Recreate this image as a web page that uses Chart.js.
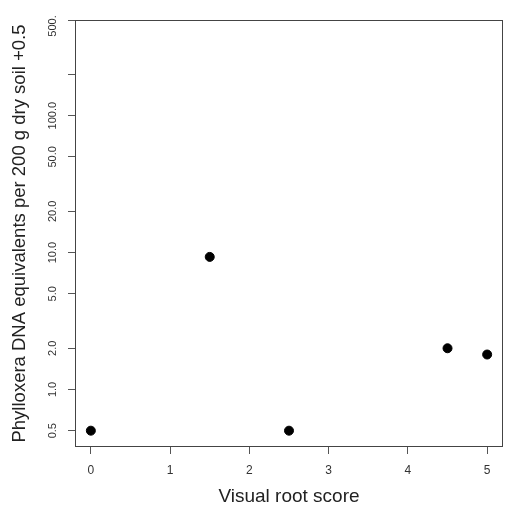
<!DOCTYPE html>
<html>
<head>
<meta charset="utf-8">
<script src="https://cdn.jsdelivr.net/npm/chart.js@4"></script>
<style>
  body { margin: 0; background: #fff; }
  #wrap { width: 509px; height: 506px; }
</style>
</head>
<body>
<div id="wrap"><canvas id="rootChart" width="509" height="506"></canvas></div>
<script>
// values
const rootScores = [0, 1.5, 2.5, 4.5, 5];
const dnaEquiv = [0.5, 9.3, 0.5, 2.0, 1.8];

const xTickValues = [0, 1, 2, 3, 4, 5];
const yTickValues = [0.5, 1, 2, 5, 10, 20, 50, 100, 200, 500];
const yTickLabels = ["0.5", "1.0", "2.0", "5.0", "10.0", "20.0", "50.0", "100.0", "", "500."];

const points = rootScores.map((x, i) => ({ x: x, y: dnaEquiv[i] }));

// box round the plot region + rotated y tick labels (R style)
const frameAndLabels = {
  id: "frameAndLabels",
  afterDraw(chart) {
    const { ctx, chartArea: a } = chart;
    const yScale = chart.scales.y;
    ctx.save();
    ctx.strokeStyle = "#444";
    ctx.lineWidth = 1;
    ctx.strokeRect(a.left + 0.5, a.top + 0.5, a.right - a.left - 1, a.bottom - a.top - 1);

    ctx.fillStyle = "#333";
    ctx.font = "11px 'Liberation Sans', Arial, sans-serif";
    ctx.textAlign = "center";
    ctx.textBaseline = "middle";
    yTickValues.forEach((v, i) => {
      let py = yScale.getPixelForValue(v);
      if (i === yTickValues.length - 1) py += 6; // top label sits a bit low in the original
      ctx.save();
      ctx.translate(53, py);
      ctx.rotate(-Math.PI / 2);
      ctx.fillText(yTickLabels[i], 0, 0);
      ctx.restore();
    });
    ctx.restore();
  }
};

const ctx = document.querySelector("#rootChart").getContext("2d");

new Chart(ctx, {
  type: "scatter",
  data: {
    datasets: [
      {
        data: points,
        backgroundColor: "#000",
        borderColor: "#000",
        pointRadius: 4.5,
        pointHoverRadius: 4.5
      }
    ]
  },
  options: {
    responsive: false,
    animation: false,
    layout: { padding: { left: 0, top: 20, right: 6, bottom: 0 } },
    plugins: { legend: { display: false }, tooltip: { enabled: false } },
    scales: {
      x: {
        type: "linear",
        min: -0.2,
        max: 5.2,
        afterBuildTicks: (s) => { s.ticks = xTickValues.map(v => ({ value: v })); },
        afterFit: (s) => { s.height = 59; },
        grid: { drawOnChartArea: false, drawTicks: true, tickLength: 7, color: "#555" },
        border: { display: false },
        ticks: {
          color: "#333",
          padding: 9,
          font: { family: "'Liberation Sans', Arial, sans-serif", size: 12 },
          callback: (v) => String(v)
        },
        title: {
          display: true,
          text: "Visual root score",
          color: "#222",
          padding: { top: 0, bottom: 0 },
          font: { family: "'Liberation Sans', Arial, sans-serif", size: 19, lineHeight: 1 }
        }
      },
      y: {
        type: "logarithmic",
        min: 0.38,
        max: 500,
        afterBuildTicks: (s) => { s.ticks = yTickValues.map(v => ({ value: v })); },
        afterFit: (s) => { s.width = 75; },
        grid: { drawOnChartArea: false, drawTicks: true, tickLength: 7, color: "#555" },
        border: { display: false },
        ticks: { display: false },
        title: {
          display: true,
          text: "Phylloxera DNA equivalents per 200 g dry soil +0.5",
          color: "#222",
          padding: { top: 11, bottom: 0 },
          font: { family: "'Liberation Sans', Arial, sans-serif", size: 18.5, lineHeight: 1 }
        }
      }
    }
  },
  plugins: [frameAndLabels]
});
</script>
</body>
</html>
